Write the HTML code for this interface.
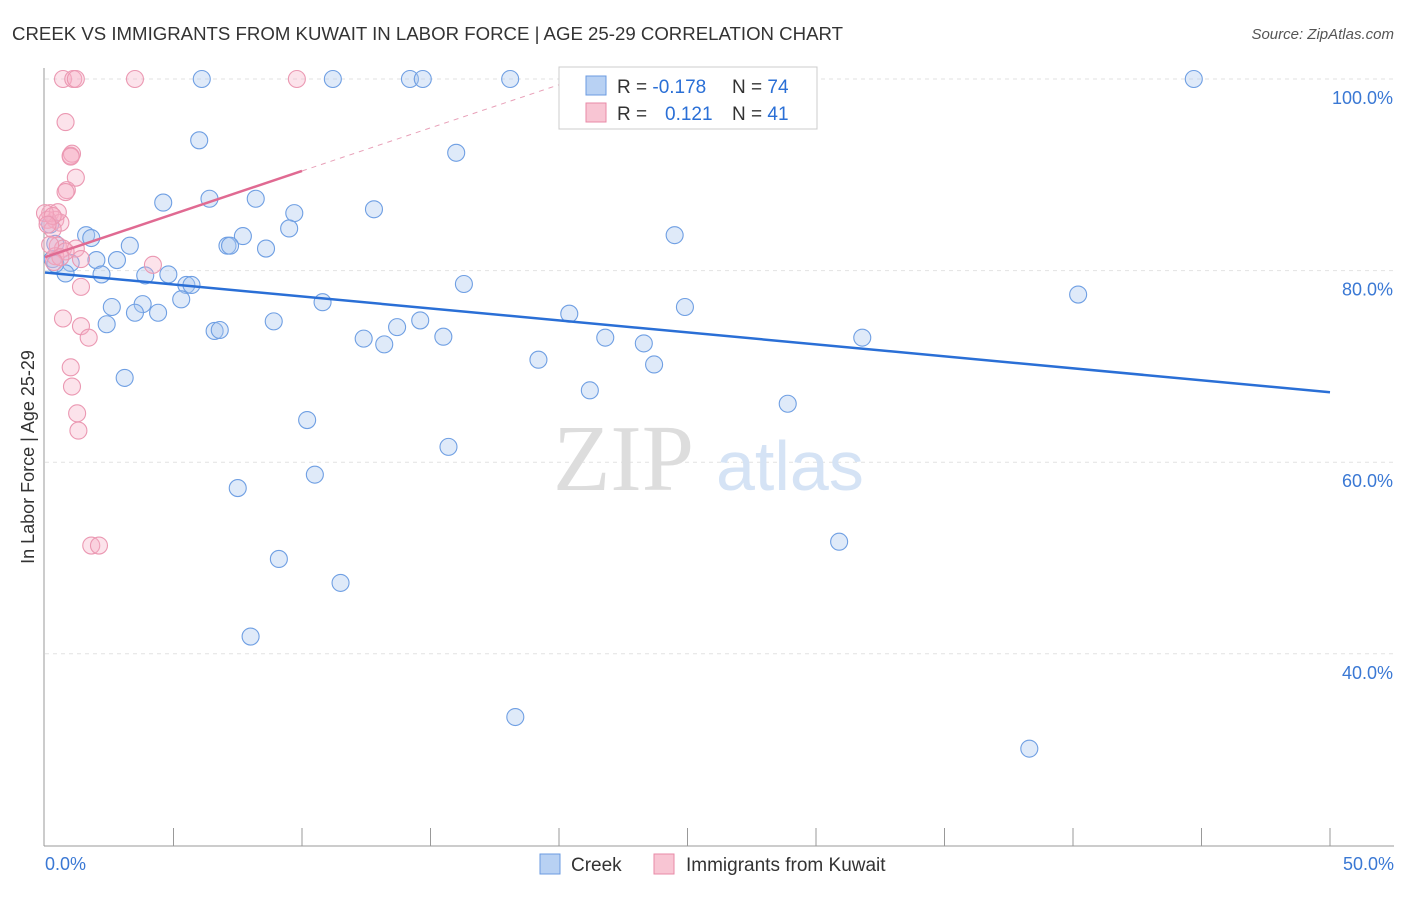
<!DOCTYPE html>
<html><head><meta charset="utf-8"><style>
body{margin:0;background:#fff;font-family:"Liberation Sans",sans-serif}
</style></head><body>
<svg width="1406" height="892" xmlns="http://www.w3.org/2000/svg" font-family="Liberation Sans, sans-serif">
<text x="12" y="40" font-size="18" fill="#333" textLength="831" lengthAdjust="spacingAndGlyphs">CREEK VS IMMIGRANTS FROM KUWAIT IN LABOR FORCE | AGE 25-29 CORRELATION CHART</text>
<text x="1394" y="39" font-size="15" fill="#555" text-anchor="end" font-style="italic">Source: ZipAtlas.com</text>
<g id="grid"></g>
<line x1="44" y1="68" x2="44" y2="846" stroke="#999"/>
<line x1="44" y1="846" x2="1394" y2="846" stroke="#999"/>
<g id="xticks"></g>
<text x="553" y="490" font-size="94" fill="#ddd" font-family="Liberation Serif, serif">ZIP</text>
<text x="716" y="490" font-size="70" fill="#d5e3f5">atlas</text>
<text transform="translate(34,457) rotate(-90)" font-size="18" fill="#333" text-anchor="middle">In Labor Force | Age 25-29</text>
<g id="ylabels"></g>
<text x="45" y="870" font-size="18" fill="#3a78d4">0.0%</text>
<text x="1394" y="870" font-size="18" fill="#3a78d4" text-anchor="end">50.0%</text>
<g id="pts"></g>
<g id="trends"></g>
<g>
<rect x="559" y="67" width="258" height="62" fill="#fff" stroke="#ccc"/>
<rect x="586" y="76" width="20" height="19" fill="#b8d1f3" stroke="#6b9be0"/>
<rect x="586" y="103" width="20" height="19" fill="#f8c5d3" stroke="#e88aa7"/>
<text x="617" y="93" font-size="19" fill="#333">R = <tspan fill="#2a6fd6">-0.178</tspan></text>
<text x="732" y="93" font-size="19" fill="#333">N = <tspan fill="#2a6fd6">74</tspan></text>
<text x="617" y="120" font-size="19" fill="#333">R = </text>
<text x="665" y="120" font-size="19" fill="#2a6fd6">0.121</text>
<text x="732" y="120" font-size="19" fill="#333">N = <tspan fill="#2a6fd6">41</tspan></text>
</g>
<g>
<rect x="540" y="854" width="20" height="20" fill="#b8d1f3" stroke="#6b9be0"/>
<text x="571" y="871" font-size="19" fill="#333">Creek</text>
<rect x="654" y="854" width="20" height="20" fill="#f8c5d3" stroke="#e88aa7"/>
<text x="686" y="871" font-size="19" fill="#333">Immigrants from Kuwait</text>
</g>
</svg>
<script>
const yTicks=[100,80,60,40];
const creekX=[6.1,11.2,14.2,14.7,18.1,44.7,6.0,16.0,4.6,6.4,8.2,12.8,9.7,9.5,1.6,1.8,7.7,3.3,7.1,7.2,8.6,24.5,2.8,2.0,1.0,2.2,3.9,4.8,0.8,5.5,5.7,16.3,40.2,2.6,3.8,5.3,10.8,3.5,4.4,24.9,20.4,2.4,8.9,14.6,13.7,6.6,6.8,12.4,13.2,15.5,21.8,23.3,31.8,19.2,23.7,3.1,21.2,28.9,10.2,15.7,10.5,7.5,30.9,9.1,11.5,8.0,18.3,38.3,0.4,0.3,0.2,0.4];
const creekY=[100,100,100,100,100,100,93.6,92.3,87.1,87.5,87.5,86.4,86.0,84.4,83.7,83.4,83.6,82.6,82.6,82.6,82.3,83.7,81.1,81.1,80.8,79.6,79.5,79.6,79.7,78.5,78.5,78.6,77.5,76.2,76.5,77.0,76.7,75.6,75.6,76.2,75.5,74.4,74.7,74.8,74.1,73.7,73.8,72.9,72.3,73.1,73.0,72.4,73.0,70.7,70.2,68.8,67.5,66.1,64.4,61.6,58.7,57.3,51.7,49.9,47.4,41.8,33.4,30.1,82.8,81.2,84.8,80.7];
const kuwaitX=[0.7,1.1,1.2,3.5,9.8,0.8,1.0,1.05,1.0,1.2,0.85,0.8,0.2,0.4,0.6,0.1,0.3,0.5,0.7,1.2,0.4,0.8,1.4,4.2,1.4,0.7,1.4,1.7,1.0,1.05,1.25,1.3,1.8,2.1,0.2,0.5,0.0,0.3,0.1,0.6,0.35];
const kuwaitY=[100,100,100,100,100,95.5,92.0,92.2,91.9,89.7,88.4,88.2,86.0,85.3,85.0,85.3,84.3,82.6,82.3,82.3,81.5,82.0,81.2,80.6,78.3,75.0,74.2,73.0,69.9,67.9,65.1,63.3,51.3,51.3,82.7,86.1,86.0,85.7,84.8,81.4,80.9];
const creekTrend=[[0,79.8],[50,67.3]];
const kuwaitTrend=[[0,81.4],[10,90.4]];
const kuwaitDash=[[10,90.4],[20,99.4]];
const X=v=>45+v*25.7, Y=v=>79+(100-v)*9.58;
const NS="http://www.w3.org/2000/svg";
function mk(t,a,p){const e=document.createElementNS(NS,t);for(const k in a)e.setAttribute(k,a[k]);document.getElementById(p).appendChild(e);return e;}
yTicks.forEach(v=>{
 const l=mk('line',{x1:45,x2:1394,y1:Y(v),y2:Y(v),stroke:'#e2e2e2','stroke-dasharray':'4,4'},'grid');
 
 
 const t=mk('text',{x:1393,y:Y(v)+25,'font-size':18,fill:'#3a78d4','text-anchor':'end'},'ylabels');
 t.textContent=v.toFixed(1)+'%';
 
 
});
for(let i=1;i<=10;i++){
 const l=mk('line',{x1:X(i*5),x2:X(i*5),y1:828,y2:846,stroke:'#999'},'xticks');
 
 
}
creekX.forEach((v,i)=>{
 const c=mk('circle',{cx:X(v),cy:Y(creekY[i]),r:8.5,fill:'rgba(170,200,240,0.38)',stroke:'#6f9fe3','stroke-width':1.1},'pts');
 
 
});
kuwaitX.forEach((v,i)=>{
 const c=mk('circle',{cx:X(v),cy:Y(kuwaitY[i]),r:8.5,fill:'rgba(245,175,198,0.35)',stroke:'#eb98b2','stroke-width':1.1},'pts');
 
 
});
let l=mk('line',{x1:X(creekTrend[0][0]),y1:Y(creekTrend[0][1]),x2:X(creekTrend[1][0]),y2:Y(creekTrend[1][1]),stroke:'#2a6fd6','stroke-width':2.5},'trends');


l=mk('line',{x1:X(kuwaitTrend[0][0]),y1:Y(kuwaitTrend[0][1]),x2:X(kuwaitTrend[1][0]),y2:Y(kuwaitTrend[1][1]),stroke:'#e06a92','stroke-width':2.5},'trends');


l=mk('line',{x1:X(kuwaitDash[0][0]),y1:Y(kuwaitDash[0][1]),x2:X(kuwaitDash[1][0]),y2:Y(kuwaitDash[1][1]),stroke:'#e8a0b8','stroke-width':1,'stroke-dasharray':'5,5'},'trends');


</script>
</body></html>
